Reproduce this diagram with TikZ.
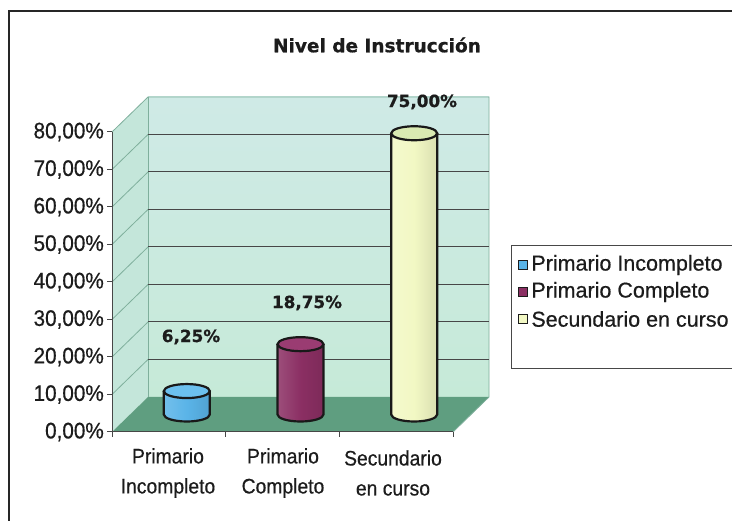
\documentclass[tikz,border=0pt]{standalone}
\usepackage{fontspec}
\setmainfont{Liberation Sans}
\newfontfamily\labelsans{Liberation Sans}[FakeBold=0.5, FakeStretch=0.92]
\newfontfamily\legendsans{Liberation Sans}[FakeBold=0.5]
\newfontfamily\boldsans{DejaVu Sans Bold}[FakeBold=0.8]
\usetikzlibrary{positioning}
\definecolor{wallbacktop}{HTML}{CFEAE6}
\definecolor{wallbackbottom}{HTML}{C6EAD8}
\definecolor{wallside}{HTML}{C4E6DA}
\definecolor{walledge}{HTML}{7FAF9C}
\definecolor{floorgreen}{HTML}{5F9E80}
\definecolor{gridgray}{HTML}{474747}
\definecolor{textgray}{HTML}{1C1C1C}
\definecolor{barblue}{HTML}{5AB4E8}
\definecolor{barbluetop}{HTML}{6CC0EE}
\definecolor{barpurple}{HTML}{8B2F63}
\definecolor{barpurpletop}{HTML}{9A3C72}
\definecolor{baryellow}{HTML}{F2F8C4}
\definecolor{baryellowtop}{HTML}{D9EAB2}
\tikzset{
  axis label/.style={
    anchor=east,
    text=textgray,
    inner sep=0pt,
    font=\labelsans\fontsize{22.5}{22}\selectfont,
  },
  category label/.style={
    align=center,
    text=textgray,
    inner sep=0pt,
    font=\labelsans\fontsize{21}{30}\selectfont,
  },
  value label/.style={
    text=textgray,
    inner sep=0pt,
    font=\boldsans\fontsize{16.8}{17}\selectfont,
  },
  legend key/.style={
    draw=textgray,
    line width=0.9pt,
    minimum size=9.5pt,
    inner sep=0pt,
  },
  legend text/.style={
    anchor=west,
    text=textgray,
    inner sep=0pt,
    font=\legendsans\fontsize{21.5}{22}\selectfont,
  },
  bar outline/.style={
    draw=black!90,
    line width=2.2pt,
  },
}

\begin{document}
\begin{tikzpicture}[x=1pt, y=1pt]
      \useasboundingbox (0,0) rectangle (732,521);
      \fill[white] (0,0) rectangle (732,521);
      \draw[gray!30!black, line width=1.4pt] (9,-10) -- (9,510) -- (760,510);

      \node[value label, font=\boldsans\fontsize{18.5}{19}\selectfont] (title) at (377,476) {Nivel de Instrucción};

      % walls and floor
      \fill[wallside] (112,89) -- (112,389) -- (148,424) -- (148,124) -- cycle;
      \shade[top color=wallbacktop, bottom color=wallbackbottom] (148,124) rectangle (489,424);
      \fill[floorgreen] (112,89) -- (148,124) -- (489,124) -- (453,89) -- cycle;
      \draw[walledge, line width=0.8pt] (112,389) -- (148,424) -- (489,424) -- (489,124) -- (453,89);
      \draw[walledge, line width=0.8pt] (148,124) -- (148,424);
      \foreach \k in {1,...,7} {
        \draw[walledge, line width=0.8pt] (112,89+37.5*\k) -- (148,124+37.5*\k);
        \draw[gridgray, line width=1pt] (148,124+37.5*\k) -- (489,124+37.5*\k);
      }

      % axes
      \draw[gridgray, line width=1pt] (112,89) -- (112,389);
      \draw[gridgray, line width=1pt] (112,89) -- (453,89);
      \foreach \k in {0,...,8}
        \draw[gridgray, line width=1pt] (107,89+37.5*\k) -- (112,89+37.5*\k);
      \foreach \k in {0,...,3}
        \draw[gridgray, line width=1pt] (112+113.67*\k,89) -- (112+113.67*\k,84);
      \foreach \k/\txt in {0/0,1/10,2/20,3/30,4/40,5/50,6/60,7/70,8/80}
        \node[axis label] (tick \k) at (104,89+37.5*\k) {\txt,00\%};

      % bars
      \foreach \cx/\val/\bodycol/\topcol in {186.8/6.25/barblue/barbluetop,
                                             300.5/18.75/barpurple/barpurpletop,
                                             414.2/75/baryellow/baryellowtop} {
        \pgfmathsetmacro\topy{106.5+3.75*\val}
        \shade[left color=\bodycol!85!white, right color=\bodycol!90!black, middle color=\bodycol]
          (\cx-23,106.5) -- (\cx-23,\topy) -- (\cx+23,\topy) -- (\cx+23,106.5)
          arc[start angle=0, end angle=-180, x radius=23, y radius=7] -- cycle;
        \draw[bar outline] (\cx-23,\topy) -- (\cx-23,106.5)
          arc[start angle=180, end angle=360, x radius=23, y radius=7] -- (\cx+23,\topy);
        \filldraw[bar outline, fill=\topcol] (\cx,\topy) ellipse[x radius=23, y radius=7];
      }

      \node[value label] (val pi) at (191,184) {6,25\%};
      \node[value label] (val pc) at (307,218) {18,75\%};
      \node[value label] (val sc) at (422,419) {75,00\%};

      \node[category label] (cat pi) at (168,48) {Primario\\Incompleto};
      \node[category label] (cat pc) at (283,48) {Primario\\Completo};
      \node[category label] (cat sc) at (393,48) {Secundario\\en curso};

      % legend
      \draw[gridgray, line width=0.8pt] (511,153) rectangle (760,276);
      \node[legend key, fill=barblue] (key pi) at (523,256) {};
      \node[legend key, fill=barpurple] (key pc) at (523,229) {};
      \node[legend key, fill=baryellow] (key sc) at (523,202) {};
      \node[legend text, right=3pt of key pi] (txt pi) {Primario Incompleto};
      \node[legend text, right=3pt of key pc] (txt pc) {Primario Completo};
      \node[legend text, right=3pt of key sc] (txt sc) {Secundario en curso};
    \end{tikzpicture}
\end{document}
